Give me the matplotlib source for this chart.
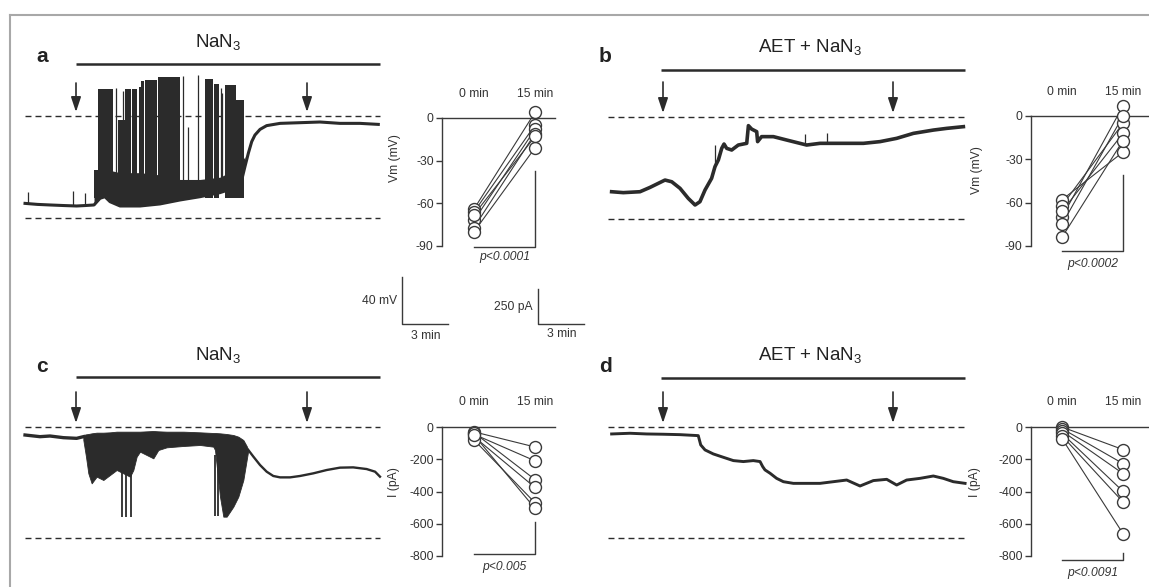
import numpy as np
import matplotlib
matplotlib.use('Agg')
import matplotlib.pyplot as plt
from matplotlib.lines import Line2D

plt.rcParams['font.family'] = ['Liberation Sans', 'DejaVu Sans']
plt.rcParams['mathtext.default'] = 'regular'

# ---------------- data ----------------
# panel a : membrane potential trace (min, mV)
a_t = [-3.31, -2.5, -1.69, -0.8, 0.04, 0.6, 1.17, 1.56, 1.88, 2.21, 2.86, 4.16, 5.45, 6.75, 8.05,
       9.35, 10.22, 10.76, 10.97, 11.19, 11.41, 11.62, 11.95, 12.38, 13.25, 14.55, 15.84, 17.14,
       18.44, 19.63]
a_v = [-77.1, -78.0, -78.5, -79.0, -79.4, -79.0, -78.5, -72.6, -71.2, -75.6, -79.4, -79.4, -77.6,
       -74.1, -71.2, -67.6, -63.8, -56.5, -44.7, -32.9, -22.6, -16.8, -11.8, -8.5, -6.5, -5.9,
       -5.3, -6.5, -6.5, -7.4]
a_burst_t = [1.17, 1.56, 1.88, 2.21, 2.86, 4.16, 5.45, 6.75, 8.05, 9.35, 10.22, 10.76, 10.97]
a_burst_lo = [-78.5, -72.6, -71.2, -75.6, -79.4, -79.4, -77.6, -74.1, -71.2, -67.6, -63.8, -56.5, -44.7]
a_burst_hi = [-50, -47, -47, -48, -50, -50, -52, -56, -56, -54, -48, -40, -36]
a_blk_t0 = [1.17, 1.43, 2.73, 3.18, 3.62, 4.06, 4.22, 4.45, 5.32, 8.38, 8.95, 9.68, 10.39]
a_blk_t1 = [1.43, 2.40, 3.18, 3.55, 3.98, 4.20, 4.40, 5.25, 6.75, 8.90, 9.30, 10.39, 10.90]
a_blk_top = [-47.6, 23.5, -3.5, 24.0, 24.0, 26.0, 31.0, 32.0, 34.4, 33.0, 28.0, 27.0, 14.0]
a_spk_t = [-3.10, -0.17, 0.58, 2.62, 3.05, 6.95, 7.27, 7.92, 9.42, 9.50]
a_spk_top = [-66.8, -65.9, -67.6, 24.7, 22.0, 35.0, -10.0, 36.0, 25.0, 20.0]

# panel b : membrane potential trace, AET + NaN3
b_t = [-3.35, -2.59, -1.5, -0.85, 0.13, 0.57, 1.11, 1.65, 2.09, 2.41, 2.74, 3.17, 3.39, 3.61,
       3.83, 3.98, 4.15, 4.48, 4.91, 5.46, 5.57, 5.78, 6.11, 6.17, 6.43, 7.2, 8.07, 9.37, 10.24,
       11.54, 13.07, 14.15, 15.24, 16.33, 17.63, 18.5, 19.59]
b_v = [-66.2, -67, -66.2, -62.4, -55.9, -57.4, -63.2, -72.1, -77.9, -75, -64.7, -54.4, -44.1,
       -38.2, -27.9, -24.1, -27.9, -29.4, -25, -23.5, -7.9, -10.9, -13.2, -22, -17.6, -17.6,
       -20.6, -25, -23.5, -23.5, -23.5, -22, -19.1, -14.7, -11.8, -10.3, -8.8]
b_spk_t = [3.39, 9.26, 10.67]
b_spk_top = [-24.7, -15, -14]

# panel c : holding current trace (min, pA)
c_pre_t = [-3.31, -2.34, -1.69, -0.82, 0.04, 0.48]
c_pre_v = [-57.7, -69.7, -64.9, -76.9, -81.7, -69.7]
c_burst_t = [0.476, 0.649, 0.801, 1.017, 1.342, 1.775, 2.208, 2.641, 3.074, 3.506, 3.723, 3.939,
             4.156, 4.589, 5.022, 5.346, 5.887, 6.970, 8.052, 8.918, 9.026, 9.351, 9.567, 9.784,
             10.216, 10.541, 10.866, 11.082, 11.190]
c_burst_hi = [-57.7, -52.9, -50.5, -45.6, -40.8, -40.8, -38.4, -33.6, -33.6, -33.6, -33.6, -33.6,
              -33.6, -31.2, -28.8, -31.2, -33.6, -33.6, -38.4, -43.2, -43.2, -45.6, -48.0, -50.5,
              -57.7, -69.7, -93.7, -136.9, -165.8]
c_burst_lo = [-93.7, -213.8, -333.9, -406.0, -358.0, -382.0, -345.9, -309.9, -333.9, -358.0,
              -309.9, -213.8, -177.8, -201.8, -225.8, -165.8, -146.5, -136.9, -129.7, -141.7,
              -165.8, -502.1, -646.2, -646.2, -574.2, -502.1, -382.0, -237.8, -165.8]
c_spk_t = [2.97, 3.25, 3.55, 9.03, 9.20]
c_spk_lo = [-646, -646, -646, -640, -640]
c_post_t = [11.19, 11.52, 11.95, 12.38, 12.81, 13.25, 13.9, 14.55, 15.41, 16.28, 17.14, 18.0,
            18.87, 19.42, 19.74]
c_post_v = [-165.8, -214, -274, -322, -353, -363, -363, -353, -334, -310, -293, -291, -303,
            -322, -358]

# panel d : holding current trace, AET + NaN3
d_t = [-3.35, -2.15, -1.07, 0.02, 1.11, 2.30, 2.46, 2.74, 3.28, 3.93, 4.59, 5.24, 5.89, 6.33,
       6.50, 6.65, 6.98, 7.41, 7.85, 8.5, 9.37, 10.24, 11.11, 11.98, 12.85, 13.72, 14.59, 15.24,
       15.89, 16.76, 17.63, 18.28, 18.93, 19.7]
d_v = [-48, -43, -48, -50, -53, -60, -127, -163, -192, -216, -240, -247, -240, -247, -283, -307,
       -331, -368, -392, -404, -404, -404, -392, -380, -423, -384, -375, -416, -380, -368, -351,
       -368, -392, -404]

# paired data (0 min vs 15 min)
pa_0 = [-64, -66, -72, -77, -80, -68]
pa_15 = [4, -5, -8, -11, -21, -13]
pb_0 = [-58, -62, -70, -66, -75, -84]
pb_15 = [-25, -5, 7, -12, 0, -17]
pc_0 = [-30, -45, -35, -60, -80, -50]
pc_15 = [-124, -210, -326, -375, -470, -505]
pd_0 = [0, -10, -25, -40, -55, -72]
pd_15 = [-140, -227, -289, -399, -465, -661]

vm_ticks = [0, -30, -60, -90]
i_ticks = [0, -200, -400, -600, -800]
time_labels = ['0 min', '15 min']
p_texts = ['p<0.0001', 'p<0.0002', 'p<0.005', 'p<0.0091']

# ---------------- figure ----------------
W, H = 1149, 587
DPI = 100
fig = plt.figure(figsize=(W / DPI, H / DPI), dpi=DPI)
INK = '#2b2b2b'
GREY = '#3a3a3a'
FS = 8.7


def lin(p, ref):
    pa, va, pb, vb = ref
    return va + (p - pa) * (vb - va) / (pb - pa)


def mapped_axes(box, xref, yref):
    x0, x1, y0, y1 = box
    ax = fig.add_axes([x0 / W, 1 - y1 / H, (x1 - x0) / W, (y1 - y0) / H])
    ax.set_xlim(lin(x0, xref), lin(x1, xref))
    ax.set_ylim(lin(y1, yref), lin(y0, yref))
    ax.axis('off')
    ax.patch.set_alpha(0)
    return ax


def decorate_trace(ax, xref, yref, dash_px, lower_val, bar_px, arrow_px):
    d0, d1 = lin(dash_px[0], xref), lin(dash_px[1], xref)
    for v in (0, lower_val):
        ax.plot([d0, d1], [v, v], color=INK, lw=1.0, dashes=(4.3, 2.9), clip_on=False)
    by = lin(bar_px[2], yref)
    ax.plot([lin(bar_px[0], xref), lin(bar_px[1], xref)], [by, by], color=INK, lw=1.8,
            clip_on=False, solid_capstyle='butt')
    for t in (0, 15):
        ax.annotate('', xy=(t, lin(arrow_px[1], yref)), xytext=(t, lin(arrow_px[0], yref)),
                    arrowprops=dict(arrowstyle='-|>,head_length=0.9,head_width=0.3', color=INK,
                                    lw=1.2, mutation_scale=10, shrinkA=0, shrinkB=0))


# --- panel a trace
xa = (76, 0, 307, 15)
ya = (116, 0, 218, -90)
axa = mapped_axes((20, 390, 25, 250), xa, ya)
axa.fill_between(a_burst_t, a_burst_lo, a_burst_hi, color=INK, lw=0)
for t0, t1, top in zip(a_blk_t0, a_blk_t1, a_blk_top):
    axa.bar(t0, top - (-72), bottom=-72, width=t1 - t0, align='edge', color=INK, lw=0)
base_a = np.interp(a_spk_t, a_t, a_v)
axa.vlines(a_spk_t, base_a, a_spk_top, color=INK, lw=0.9)
axa.plot(a_t, a_v, color=INK, lw=2.2, solid_joinstyle='round')
decorate_trace(axa, xa, ya, (25, 380), -90, (76, 380, 64), (83, 112))

# --- panel b trace
xb = (663, 0, 893, 15)
yb = (116.7, 0, 218.7, -90)
axb = mapped_axes((600, 975, 25, 250), xb, yb)
base_b = np.interp(b_spk_t, b_t, b_v)
axb.vlines(b_spk_t, base_b, b_spk_top, color=INK, lw=0.9)
axb.plot(b_t, b_v, color=INK, lw=2.6, solid_joinstyle='round')
decorate_trace(axb, xb, yb, (608, 967), -90, (661, 965, 70), (82, 113))

# --- panel c trace
xc = (76, 0, 307, 15)
yc = (427, 0, 538, -800)
axc = mapped_axes((20, 390, 340, 580), xc, yc)
axc.plot(c_pre_t, c_pre_v, color=INK, lw=2.4, solid_joinstyle='round')
axc.fill_between(c_burst_t, c_burst_lo, c_burst_hi, color=INK, lw=0.6, edgecolor=INK)
axc.vlines(c_spk_t, -200, c_spk_lo, color=INK, lw=1.3)
axc.plot(c_post_t, c_post_v, color=INK, lw=1.7, solid_joinstyle='round')
decorate_trace(axc, xc, yc, (25, 380), -800, (76, 380, 377), (392, 423))

# --- panel d trace
xd = (663, 0, 893, 15)
yd = (427.3, 0, 538.3, -800)
axd = mapped_axes((600, 975, 340, 580), xd, yd)
axd.plot(d_t, d_v, color=INK, lw=2.1, solid_joinstyle='round')
decorate_trace(axd, xd, yd, (608, 967), -800, (661, 965, 378), (392, 423))

# --- scale bars
sx0 = lin(402, xa)
axa.plot([sx0, sx0, sx0 + 3], [lin(277, ya), lin(324, ya), lin(324, ya)], color=GREY, lw=1.0,
         clip_on=False)
sx1 = lin(538, xc)
axc.plot([sx1, sx1, sx1 + 3], [lin(289, yc), lin(324, yc), lin(324, yc)], color=GREY, lw=1.0,
         clip_on=False)
fig.text(397 / W, 1 - 301 / H, '40 mV', ha='right', va='center', fontsize=FS, color='#333')
fig.text(426 / W, 1 - 336 / H, '3 min', ha='center', va='center', fontsize=FS, color='#333')
fig.text(533 / W, 1 - 307 / H, '250 pA', ha='right', va='center', fontsize=FS, color='#333')
fig.text(562 / W, 1 - 334 / H, '3 min', ha='center', va='center', fontsize=FS, color='#333')


# --- paired panels
def paired(box, xref, yref, v0, v15, ticks, ylabel, lab_pos, bracket_px, ptxt, p_px, head_px):
    ax = mapped_axes(box, xref, yref)
    ax.axis('on')
    for s in ('right', 'bottom'):
        ax.spines[s].set_visible(False)
    for s in ('left', 'top'):
        ax.spines[s].set_color(GREY)
        ax.spines[s].set_linewidth(1.0)
    ax.spines['left'].set_bounds(ticks[-1], 0)
    ax.set_xticks([])
    ax.set_yticks(ticks)
    ax.set_yticklabels([str(t) for t in ticks])
    ax.tick_params(axis='y', direction='out', length=4, width=1, color=GREY, labelsize=FS,
                   labelcolor='#333', pad=2)
    for a, b in zip(v0, v15):
        ax.plot([0, 1], [a, b], color=GREY, lw=0.8, clip_on=False, zorder=2)
    ax.plot([0] * len(v0), v0, 'o', ms=8.6, mfc='white', mec=GREY, mew=1.0, clip_on=False,
            zorder=3)
    ax.plot([1] * len(v15), v15, 'o', ms=8.6, mfc='white', mec=GREY, mew=1.0, clip_on=False,
            zorder=3)
    hy = lin(head_px, yref)
    for x, s in zip((0, 1), time_labels):
        ax.text(x, hy, s, ha='center', va='center', fontsize=FS, color='#333', clip_on=False)
    top, bot = lin(bracket_px[0], yref), lin(bracket_px[1], yref)
    ax.plot([0, 1, 1], [bot, bot, top], color=GREY, lw=1.0, clip_on=False)
    ax.text(0.5, lin(p_px, yref), ptxt, ha='center', va='center', fontsize=FS, style='italic',
            color='#333', clip_on=False)
    ax.set_ylabel(ylabel, fontsize=FS, color='#333')
    ax.yaxis.set_label_coords(*lab_pos)
    return ax


paired((442, 555, 118, 246), (474, 0, 535, 1), (118, 0, 246, -90), pa_0, pa_15, vm_ticks,
       'Vm (mV)', (-0.363, 0.69), (171, 247), p_texts[0], 257, 94)
paired((1031, 1149, 116, 246), (1062, 0, 1123, 1), (116, 0, 246, -90), pb_0, pb_15, vm_ticks,
       'Vm (mV)', (-0.407, 0.585), (175, 251), p_texts[1], 264, 92)
paired((442, 555, 427, 556), (474, 0, 535, 1), (427, 0, 556, -800), pc_0, pc_15, i_ticks,
       'I (pA)', (-0.372, 0.574), (522, 554), p_texts[2], 567, 402)
paired((1031, 1149, 427, 556), (1062, 0, 1123, 1), (427, 0, 556, -800), pd_0, pd_15, i_ticks,
       'I (pA)', (-0.424, 0.574), (553, 560), p_texts[3], 573, 402)

# --- titles and panel letters
TFS = 13.5
fig.text(218 / W, 1 - 47 / H, 'NaN$_3$', ha='center', va='baseline', fontsize=TFS, color='#222')
fig.text(810 / W, 1 - 52 / H, 'AET + NaN$_3$', ha='center', va='baseline', fontsize=TFS,
         color='#222')
fig.text(218 / W, 1 - 360 / H, 'NaN$_3$', ha='center', va='baseline', fontsize=TFS, color='#222')
fig.text(810 / W, 1 - 360 / H, 'AET + NaN$_3$', ha='center', va='baseline', fontsize=TFS,
         color='#222')
for s, x, y in (('a', 42, 57), ('b', 605, 56), ('c', 42, 366), ('d', 605, 366)):
    fig.text(x / W, 1 - y / H, s, ha='center', va='center', fontsize=15, fontweight='bold',
             color='#222')

# --- frame lines
fig.add_artist(Line2D([10 / W, 1], [1 - 15 / H, 1 - 15 / H], color='#a8a8a8', lw=1.5))
fig.add_artist(Line2D([10 / W, 10 / W], [0, 1 - 15 / H], color='#a8a8a8', lw=1.5))

fig.savefig('out.png', dpi=DPI)
